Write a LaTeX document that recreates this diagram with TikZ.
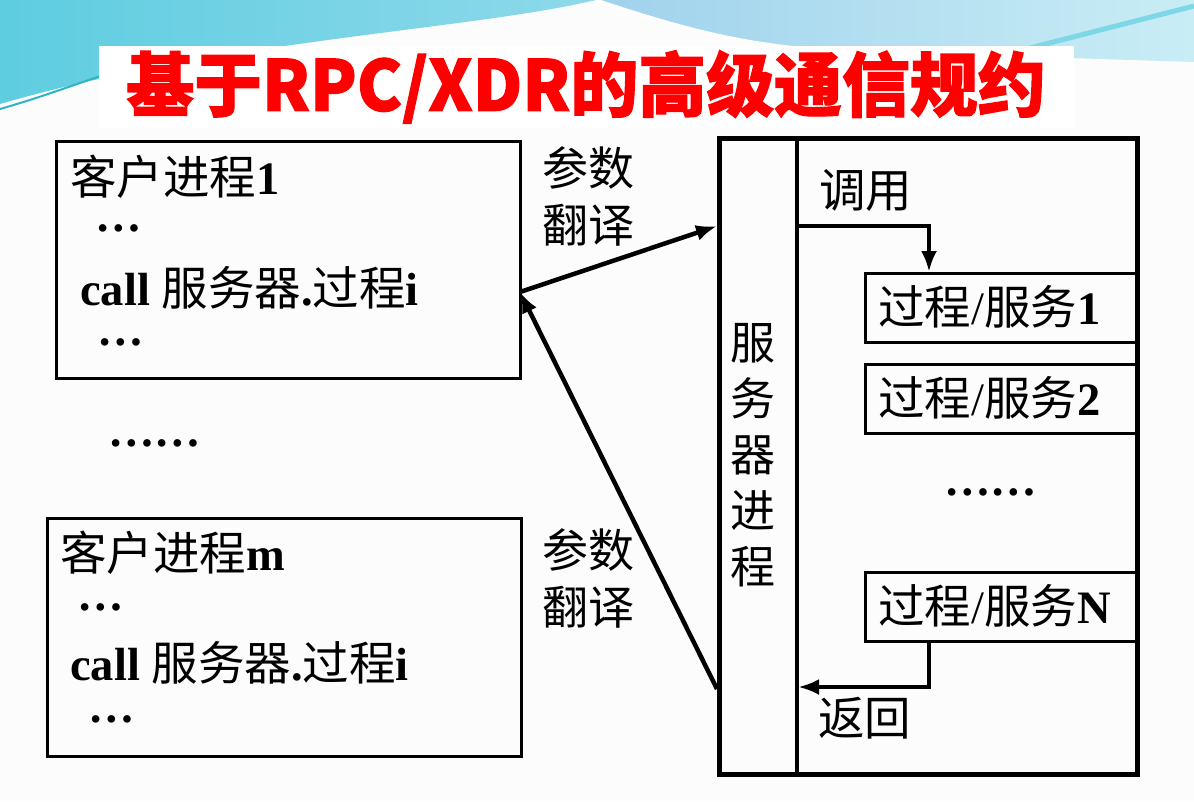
\documentclass[tikz,border=0pt]{standalone}
\usepackage{graphicx}
\usepackage{fontspec}
\setmainfont{Liberation Serif}
\newfontfamily\cjk{Noto Sans CJK SC}
\newfontfamily\cjktitle[FakeBold=1.6]{Noto Sans CJK SC}
\usetikzlibrary{arrows.meta}

\definecolor{skyA}{HTML}{5ECDE0}
\definecolor{skyB}{HTML}{8ED9EA}
\definecolor{skyC}{HTML}{9FD2EC}
\definecolor{skyD}{HTML}{C9EDF5}
\definecolor{tealline}{HTML}{2FB3C2}
\definecolor{paper}{HTML}{FCFCFC}

\newcommand\zh[1]{{\cjk #1}}
\newcommand\bd[1]{\textbf{#1}}

\begin{document}
\begin{tikzpicture}[x=1pt,y=-1pt,
  box/.style={draw=black, line width=3pt, inner sep=0pt, anchor=north west},
  pbox/.style={draw=black, line width=3pt, inner sep=0pt, anchor=north west,
               minimum width=271pt, minimum height=69pt},
  srvbox/.style={draw=black, line width=4.5pt, inner sep=0pt, anchor=north west},
  divider/.style={line width=3.5pt},
  flow/.style={line width=4.5pt, -{Latex[length=21pt,width=16pt]}},
  txt/.style={anchor=west, inner sep=0pt, font=\fontsize{46.5}{56}\selectfont},
  ctxt/.style={inner sep=0pt, font=\fontsize{46}{57}\selectfont, align=left},
]
\useasboundingbox (0,0) rectangle (1194,801);

% page background with the light wave at the top
\fill[paper] (0,0) rectangle (1194,801);
\shade[left color=skyA, right color=skyB]
  (0,0) -- (596,0) .. controls (470,30) and (220,40) .. (0,104) -- cycle;
\shade[left color=skyC, right color=skyD]
  (596,0) .. controls (680,28) and (740,44) .. (820,50)
  -- (1194,62) -- (1194,0) -- cycle;
\draw[line width=3pt, white] (596,0) .. controls (680,28) and (740,44) .. (820,50);
\draw[line width=5pt, skyA!80!white] (1194,6) -- (1030,48);
\draw[line width=2pt, tealline] (0,109) .. controls (60,92) and (110,70) .. (180,52);

% title banner
\fill[white] (99,46) rectangle (1074,128);
\node[text=red, inner sep=0pt, font=\cjktitle\bfseries\fontsize{70}{70}\selectfont]
  (title) at (586,87) {\scalebox{0.97}[1]{基于RPC/XDR的高级通信规约}};

% client processes
\node[box, minimum width=464pt, minimum height=237pt] (c1) at (55,140) {};
\node[txt] (c1a) at (70,177) {\zh{客户进程}\bd{1}};
\node[txt] (c1b) at (95,228) {\bd{…}};
\node[txt] (c1c) at (80,288) {\bd{call }\zh{服务器}\bd{.}\zh{过程}\bd{i}};
\node[txt] (c1d) at (97,342) {\bd{…}};

\node[txt] (gap) at (108,443) {\bd{……}};

\node[box, minimum width=474pt, minimum height=238pt] (cm) at (46,517) {};
\node[txt] (cma) at (60,553) {\zh{客户进程}\bd{m}};
\node[txt] (cmb) at (77,607) {\bd{…}};
\node[txt] (cmc) at (70,663) {\bd{call }\zh{服务器}\bd{.}\zh{过程}\bd{i}};
\node[txt] (cmd) at (88,719) {\bd{…}};

% parameter translation labels
\node[ctxt, anchor=north west] (lab1) at (542,146) {\zh{参数}\\\zh{翻译}};
\node[ctxt, anchor=north west] (lab2) at (542,528) {\zh{参数}\\\zh{翻译}};

% server process
\node[pbox] (ps1) at (864,272) {};
\node[pbox] (ps2) at (864,363) {};
\node[pbox] (psn) at (864,571) {};
\node[txt] (ps1t) at (878,307) {\zh{过程}/\zh{服务}\bd{1}};
\node[txt] (ps2t) at (878,398) {\zh{过程}/\zh{服务}\bd{2}};
\node[txt] (psnt) at (878,606) {\zh{过程}/\zh{服务}\bd{N}};
\node[txt] (psdots) at (944,492) {\bd{……}};

\node[srvbox, minimum width=418pt, minimum height=636pt] (srv) at (717,136) {};
\coordinate (divtop) at (797,136);
\coordinate (divbot) at (797,772);
\draw[divider] (divtop) -- (divbot);
\node[inner sep=0pt, align=center, font=\cjk\fontsize{45}{56}\selectfont]
  (srvname) at (753,455) {服\\务\\器\\进\\程};

\node[txt] (callt) at (819,190) {\zh{调用}};
\node[txt] (rett) at (818,718) {\zh{返回}};

% call and return inside the server
\coordinate (callout) at (797,226);
\coordinate (callin) at (929,272);
\draw[flow] (callout) -| (callin);
\coordinate (retout) at (929,640);
\coordinate (retin) at (798,687);
\draw[flow] (retout) |- (retin);

% request and reply between client and server
\coordinate (cport) at (520,292);
\coordinate (sreq) at (717,226);
\coordinate (srep) at (717,689);
\draw[flow] (cport) -- (sreq);
\draw[flow] (srep) -- (cport);
\end{tikzpicture}
\end{document}
